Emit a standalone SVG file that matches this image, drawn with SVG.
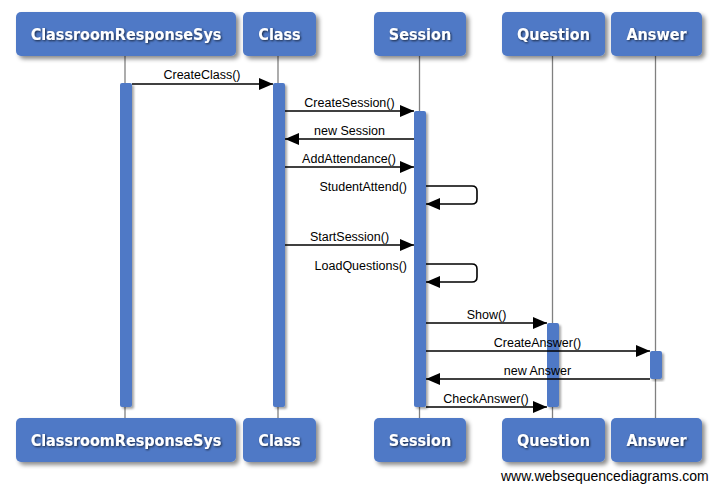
<svg xmlns="http://www.w3.org/2000/svg" width="712" height="484" viewBox="0 0 712 484">
<style>
.box{fill:#4f79c6;filter:url(#sh);}
.bt{font-family:"DejaVu Sans Condensed","DejaVu Sans",sans-serif;font-weight:bold;font-size:16px;fill:#fff;text-anchor:middle;filter:url(#tsh);}
.life{stroke:#808080;stroke-width:1.3;fill:none;}
.bar{fill:#4f79c6;filter:url(#sh2);}
.msg{stroke:#000;stroke-width:1.6;fill:none;}
.lbl{font-family:"Liberation Sans",Arial,sans-serif;font-size:12.5px;fill:#000;text-anchor:middle;}
.wm{font-family:"Liberation Sans",Arial,sans-serif;font-size:14px;fill:#000;}
</style>
<defs>
<filter id="sh" x="-10%" y="-20%" width="130%" height="160%">
<feDropShadow dx="3" dy="3" stdDeviation="2" flood-color="#000" flood-opacity="0.45"/>
</filter>
<filter id="sh2" x="-50%" y="-5%" width="250%" height="115%">
<feDropShadow dx="2" dy="2" stdDeviation="1.2" flood-color="#000" flood-opacity="0.35"/>
</filter>
<filter id="tsh" x="-10%" y="-30%" width="130%" height="180%">
<feDropShadow dx="1" dy="1" stdDeviation="0.8" flood-color="#000" flood-opacity="0.7"/>
</filter>
<marker id="ah" markerWidth="14" markerHeight="12" refX="14" refY="6" orient="auto" markerUnits="userSpaceOnUse">
<path d="M0,0 L14,6 L0,12 Z" fill="#000"/>
</marker>
</defs>
<rect width="712" height="484" fill="#fff"/>

<g id="lifelines">
<line class="life" x1="125" y1="56" x2="125" y2="418"/>
<line class="life" x1="278" y1="56" x2="278" y2="418"/>
<line class="life" x1="419.5" y1="56" x2="419.5" y2="418"/>
<line class="life" x1="552.5" y1="56" x2="552.5" y2="418"/>
<line class="life" x1="655.5" y1="56" x2="655.5" y2="418"/>
</g>

<g id="activations">
<rect class="bar" x="120" y="83" width="12" height="324" rx="2"/>
<rect class="bar" x="273" y="83" width="12" height="324" rx="2"/>
<rect class="bar" x="414" y="111" width="12" height="296" rx="2"/>
<rect class="bar" x="547" y="323" width="12" height="84" rx="2"/>
<rect class="bar" x="650" y="351" width="12" height="28" rx="2"/>
</g>

<g id="node-crs">
<rect class="box" x="16" y="12" width="220" height="44" rx="5"/>
<text class="bt" x="126" y="40">ClassroomResponseSys</text>
<rect class="box" x="16" y="418" width="220" height="44" rx="5"/>
<text class="bt" x="126" y="446">ClassroomResponseSys</text>
</g>
<g id="node-class">
<rect class="box" x="243" y="12" width="73" height="44" rx="5"/>
<text class="bt" x="279.5" y="40">Class</text>
<rect class="box" x="243" y="418" width="73" height="44" rx="5"/>
<text class="bt" x="279.5" y="446">Class</text>
</g>
<g id="node-session">
<rect class="box" x="374" y="12" width="92" height="44" rx="5"/>
<text class="bt" x="420" y="40">Session</text>
<rect class="box" x="374" y="418" width="92" height="44" rx="5"/>
<text class="bt" x="420" y="446">Session</text>
</g>
<g id="node-question">
<rect class="box" x="502" y="12" width="103" height="44" rx="5"/>
<text class="bt" x="553.5" y="40">Question</text>
<rect class="box" x="502" y="418" width="103" height="44" rx="5"/>
<text class="bt" x="553.5" y="446">Question</text>
</g>
<g id="node-answer">
<rect class="box" x="611" y="12" width="91" height="44" rx="5"/>
<text class="bt" x="656.5" y="40">Answer</text>
<rect class="box" x="611" y="418" width="91" height="44" rx="5"/>
<text class="bt" x="656.5" y="446">Answer</text>
</g>

<g id="connectors">
<line class="msg" x1="132" y1="84" x2="273" y2="84" marker-end="url(#ah)"/>
<text class="lbl" x="202" y="79">CreateClass()</text>

<line class="msg" x1="285" y1="111" x2="414" y2="111" marker-end="url(#ah)"/>
<text class="lbl" x="349.5" y="106.5">CreateSession()</text>

<line class="msg" x1="414" y1="139" x2="285" y2="139" marker-end="url(#ah)"/>
<text class="lbl" x="349.5" y="135">new Session</text>

<line class="msg" x1="285" y1="167" x2="414" y2="167" marker-end="url(#ah)"/>
<text class="lbl" x="349" y="163">AddAttendance()</text>

<path class="msg" d="M426,186 H472 Q477,186 477,191 V199 Q477,204 472,204 H426" marker-end="url(#ah)"/>
<text class="lbl" x="407" y="191" style="text-anchor:end">StudentAttend()</text>

<line class="msg" x1="285" y1="245" x2="414" y2="245" marker-end="url(#ah)"/>
<text class="lbl" x="349.5" y="241">StartSession()</text>

<path class="msg" d="M426,264 H472 Q477,264 477,269 V277 Q477,282 472,282 H426" marker-end="url(#ah)"/>
<text class="lbl" x="407" y="270" style="text-anchor:end">LoadQuestions()</text>

<line class="msg" x1="426" y1="323" x2="547" y2="323" marker-end="url(#ah)"/>
<text class="lbl" x="486.5" y="319">Show()</text>

<line class="msg" x1="426" y1="351" x2="650" y2="351" marker-end="url(#ah)"/>
<text class="lbl" x="537.5" y="347">CreateAnswer()</text>

<line class="msg" x1="650" y1="379" x2="426" y2="379" marker-end="url(#ah)"/>
<text class="lbl" x="537.5" y="375">new Answer</text>

<line class="msg" x1="426" y1="407" x2="547" y2="407" marker-end="url(#ah)"/>
<text class="lbl" x="486" y="403">CheckAnswer()</text>
</g>

<text class="wm" x="501" y="481">www.websequencediagrams.com</text>
</svg>
